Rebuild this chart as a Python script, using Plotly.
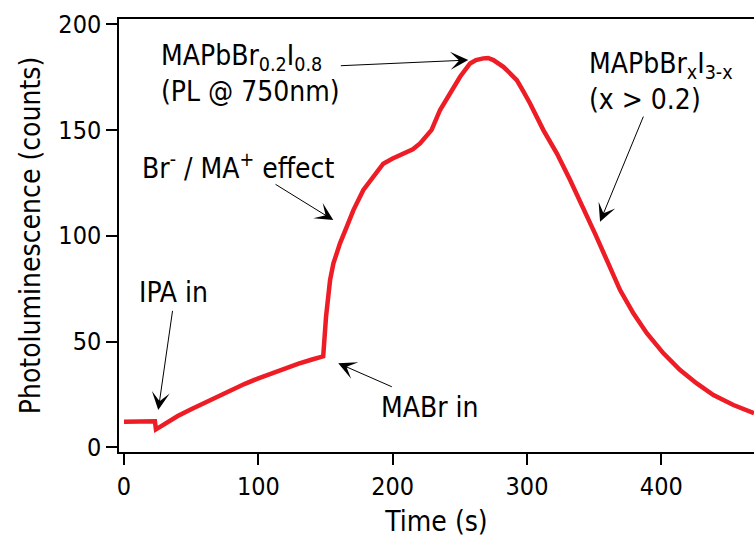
import plotly.graph_objects as go

# ---- data ----
time_s = [0, 5, 10, 15, 20, 23, 23.8, 30, 40, 50, 60, 70, 80, 90, 100, 110, 120,
          130, 140, 147.5, 148.3, 150.4, 153.4, 155.9, 160.8, 165.8, 170.8, 178.2,
          185.6, 193, 200, 208, 215, 220.4, 225, 229, 235.3, 242.7, 250.2, 257.6,
          262, 267.5, 271, 275, 278, 282.4, 287, 292.4, 297, 302.3, 312.2, 322.2,
          332.1, 341, 351, 360.5, 369.3, 379.2, 389.2, 401.6, 414, 426.4, 438.8,
          453.7, 469]
pl_counts = [12.1, 12.2, 12.0, 12.1, 12.0, 12.3, 8.5, 11.0, 14.8, 18.0, 21.0, 24.4,
             27.3, 30.0, 32.6, 35.0, 37.3, 39.5, 41.5, 42.8, 43.0, 61.7, 79.0, 86.9,
             96.4, 104.2, 112.1, 121.6, 127.9, 134.0, 136.5, 138.9, 140.8, 143.6,
             147.0, 150.0, 159.4, 167.3, 175.1, 181.4, 183.0, 183.8, 184.0, 183.0,
             181.8, 179.8, 177.0, 173.5, 168.5, 162.5, 149.9, 138.9, 126.3, 114.5,
             100.5, 86.9, 74.3, 63.3, 53.9, 44.4, 36.5, 30.2, 24.7, 20.0, 16.1]

x_ticks = [0, 100, 200, 300, 400]
y_ticks = [0, 50, 100, 150, 200]

# annotations: (text, text_x, text_y, xanchor, align)
labels = [
    ("IPA in", 37.2, 73.0, "center", "center"),
    ("MABr in", 227.8, 19.0, "center", "center"),
    ("Br<sup>-</sup> / MA<sup>+</sup> effect", 84.5, 132.5, "center", "center"),
    ("MAPbBr<sub>0.2</sub>I<sub>0.8</sub><br>(PL @ 750nm)", 26.3, 176.8, "left", "left"),
    ("MAPbBr<sub>x</sub>I<sub>3-x</sub><br>(x > 0.2)", 345.0, 173.1, "left", "left"),
]
# arrows: (tail_x, tail_y, tip_x, tip_y)
arrows = [
    (36.3, 65.2, 25.5, 17.6),
    (200.5, 28.3, 159.5, 39.7),
    (111.7, 124.7, 155.8, 107.4),
    (160.3, 180.3, 256.3, 183.0),
    (387.1, 157.0, 354.4, 106.6),
]

FONT = "DejaVu Sans Condensed, DejaVu Sans, sans-serif"

fig = go.Figure()
fig.add_trace(go.Scatter(x=time_s, y=pl_counts, mode="lines",
                         line=dict(color="#ee1c25", width=4.5),
                         showlegend=False, hoverinfo="skip"))

annots = []
for text, tx, ty, xa, al in labels:
    annots.append(dict(text=text, x=tx, y=ty, xref="x", yref="y",
                       xanchor=xa, yanchor="middle", align=al, showarrow=False,
                       font=dict(size=28, color="black", family=FONT)))
for axx, ayy, tx, ty in arrows:
    annots.append(dict(text="", x=tx, y=ty, xref="x", yref="y",
                       ax=axx, ay=ayy, axref="x", ayref="y",
                       showarrow=True, arrowhead=3, arrowsize=3, arrowwidth=1,
                       arrowcolor="black"))

fig.update_layout(
    width=754, height=549,
    margin=dict(l=119, r=0, t=19, b=97),
    plot_bgcolor="white", paper_bgcolor="white",
    font=dict(family=FONT, size=25, color="black"),
    annotations=annots,
    xaxis=dict(range=[-3.72, 469.0], tickvals=x_ticks, ticks="outside",
               ticklen=11, tickwidth=1.5, tickcolor="black",
               showline=True, linecolor="black", linewidth=1.5, mirror=True,
               showgrid=False, zeroline=False,
               title=dict(text="Time (s)", standoff=12,
                          font=dict(size=28, family=FONT))),
    yaxis=dict(range=[-2.22, 202.4], tickvals=y_ticks, ticks="outside",
               ticklen=11, tickwidth=1.5, tickcolor="black",
               showline=True, linecolor="black", linewidth=1.5,
               showgrid=False, zeroline=False,
               title=dict(text="Photoluminescence (counts)", standoff=10,
                          font=dict(size=28, family=FONT))),
)

fig.write_html("out.html")
